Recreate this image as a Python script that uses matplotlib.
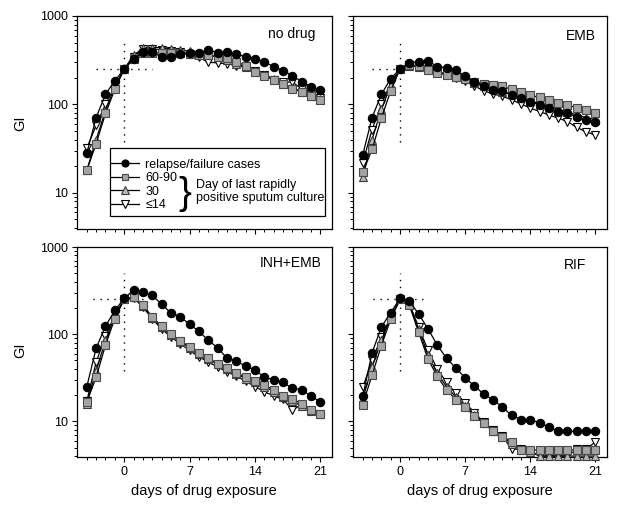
import matplotlib
matplotlib.use('Agg')
import matplotlib.pyplot as plt
from matplotlib.patches import Rectangle
from matplotlib.lines import Line2D
from matplotlib.ticker import FixedLocator, LogLocator, NullFormatter, FixedFormatter

plt.rcParams['font.family'] = ['Liberation Sans', 'DejaVu Sans']

# ---------------- data ----------------
days = [-4, -3, -2, -1, 0, 1, 2, 3, 4, 5, 6, 7, 8, 9, 10, 11, 12, 13, 14, 15, 16, 17, 18, 19, 20, 21]
series_labels = ['relapse/failure cases', '60-90', '30', '\u226414']
panel_titles = ['no drug', 'EMB', 'INH+EMB', 'RIF']

nodrug_relapse = [28, 71, 130, 186, 250, 325, 390, 390, 346, 346, 370, 382, 382, 412, 385, 392, 372, 346, 329, 304, 267, 241, 212, 181, 159, 145]
nodrug_6090 = [18, 36, 79, 148, 250, 330, 378, 380, 382, 380, 378, 372, 360, 362, 346, 337, 304, 274, 235, 212, 191, 172, 151, 140, 123, 111]
nodrug_30 = [18, 40, 85, 160, 250, 360, 430, 440, 440, 425, 415, 400, 385, 365, 340, 320, 290, 265, 240, 215, 195, 172, 152, 140, 125, 115]
nodrug_le14 = [32, 58, 100, 160, 250, 345, 420, 425, 415, 405, 395, 370, 340, 300, 295, 288, 275, 262, 238, 215, 190, 178, 180, 150, 130, 118]

emb_relapse = [27, 71, 130, 196, 250, 296, 304, 312, 268, 260, 247, 207, 181, 162, 147, 141, 128, 118, 107, 99, 91, 83, 80, 72, 67, 63]
emb_6090 = [17, 31, 70, 142, 250, 280, 272, 246, 227, 216, 205, 194, 180, 172, 166, 160, 148, 137, 127, 120, 113, 104, 99, 91, 87, 80]
emb_30 = [15, 40, 88, 165, 250, 275, 268, 252, 235, 220, 205, 192, 175, 160, 150, 140, 130, 120, 110, 102, 95, 88, 82, 76, 71, 67]
emb_le14 = [22, 52, 100, 175, 250, 275, 265, 250, 235, 218, 200, 182, 162, 142, 132, 123, 113, 101, 91, 83, 76, 70, 64, 55, 49, 45]

inh_relapse = [25, 69, 124, 187, 257, 320, 304, 279, 221, 176, 158, 130, 108, 85, 70, 53, 49, 43, 39, 32, 30, 28, 24, 23, 19.5, 16.7]
inh_6090 = [16.7, 32, 75, 151, 250, 270, 216, 158, 124, 100, 84, 72, 61, 53, 46, 41, 36, 32, 29, 26, 23, 19.5, 18, 16, 13.6, 12.2]
inh_30 = [16, 38, 85, 160, 250, 268, 212, 155, 120, 97, 82, 70, 60, 52, 45, 40, 35, 31, 28, 25, 22, 19, 17, 15, 13.2, 12]
inh_le14 = [17, 48, 95, 165, 250, 262, 205, 150, 115, 93, 78, 65, 55, 48, 42, 37, 33, 29, 25, 22, 19.5, 18, 13.5, 15.5, 13, 12]

rif_relapse = [19.5, 61, 121, 177, 257, 242, 170, 116, 75, 53, 41, 31.5, 25.5, 20.5, 17.7, 14.6, 11.7, 10.5, 10.5, 9.6, 8.6, 7.7, 7.7, 7.7, 7.7, 7.7]
rif_6090 = [15.6, 34, 74, 148, 250, 215, 106, 52, 33, 23, 17.7, 14.6, 11.4, 9.6, 7.7, 6.7, 5.8, 4.7, 4.7, 4.7, 4.7, 4.7, 4.7, 4.7, 4.7, 4.7]
rif_30 = [18, 42, 85, 155, 250, 220, 115, 58, 36, 25, 19, 15, 11.8, 9.6, 7.7, 6.7, 5.5, 4.7, 4.5, 4.0, 4.0, 4.0, 4.0, 4.0, 4.0, 4.0]
rif_le14 = [24.5, 50, 92, 158, 250, 225, 121, 66, 40, 28, 21, 16.4, 12.6, 9.8, 7.9, 6.8, 4.8, 4.8, 4.6, 4.0, 4.0, 4.0, 4.0, 4.8, 4.8, 5.8]

panels_data = [
    [nodrug_relapse, nodrug_6090, nodrug_30, nodrug_le14],
    [emb_relapse, emb_6090, emb_30, emb_le14],
    [inh_relapse, inh_6090, inh_30, inh_le14],
    [rif_relapse, rif_6090, rif_30, rif_le14],
]

# ---------------- style ----------------
styles = [
    dict(marker='o', mfc='black', mec='black', ms=6.0),
    dict(marker='s', mfc='#a4a4a4', mec='#4a4a4a', ms=5.5),
    dict(marker='^', mfc='#b8b8b8', mec='#3a3a3a', ms=6.0),
    dict(marker='v', mfc='white', mec='black', ms=6.0),
]
draw_order = [3, 2, 1, 0]

W, H = 620, 520
rects = [
    [77 / W, 1 - 229 / H, 255 / W, 213 / H],
    [353 / W, 1 - 229 / H, 254 / W, 213 / H],
    [77 / W, 1 - 457 / H, 255 / W, 210 / H],
    [353 / W, 1 - 457 / H, 254 / W, 210 / H],
]
title_pos = [(0.935, 0.915), (0.955, 0.906), (0.96, 0.924), (0.92, 0.914)]
hline_ext = [(-3, 3), (-3, 0), (-3.3, 2.6), (-2.9, 2.6)]

fig = plt.figure(figsize=(6.2, 5.2), dpi=100)

axes = []
for i in range(4):
    ax = fig.add_axes(rects[i])
    axes.append(ax)
    ax.set_yscale('log')
    ax.set_ylim(3.9, 1000)
    ax.set_xlim(-5.05, 22.25)

    # dotted crosshair
    ax.plot([0, 0], [38, 500], color='black', lw=1.0, ls=(0, (1, 4)), zorder=1)
    ax.plot(list(hline_ext[i]), [250, 250], color='black', lw=1.0, ls=(0, (1, 4)), zorder=1)

    for k in draw_order:
        st = styles[k]
        ax.plot(days, panels_data[i][k], color='black', lw=0.9, marker=st['marker'],
                mfc=st['mfc'], mec=st['mec'], ms=st['ms'], mew=0.8,
                clip_on=False, zorder=3 + (3 - k) * 0.1)

    ax.text(title_pos[i][0], title_pos[i][1], panel_titles[i], transform=ax.transAxes,
            ha='right', va='center', fontsize=10)

    # ticks
    ax.xaxis.set_major_locator(FixedLocator([0, 7, 14, 21]))
    ax.xaxis.set_minor_locator(FixedLocator(days))
    ax.yaxis.set_major_locator(FixedLocator([10, 100, 1000]))
    ax.yaxis.set_minor_locator(LogLocator(base=10, subs=[2, 3, 4, 5, 6, 7, 8, 9]))
    ax.yaxis.set_minor_formatter(NullFormatter())
    ax.xaxis.set_minor_formatter(NullFormatter())
    ax.tick_params(which='major', direction='out', length=3.5, width=0.8, labelsize=9, pad=3)
    ax.tick_params(which='minor', direction='out', length=2.2, width=0.7)
    if i in (0, 2):
        ax.yaxis.set_major_formatter(FixedFormatter(['10', '100', '1000']))
    else:
        ax.yaxis.set_major_formatter(NullFormatter())
    if i in (2, 3):
        ax.xaxis.set_major_formatter(FixedFormatter(['0', '7', '14', '21']))
    else:
        ax.xaxis.set_major_formatter(NullFormatter())
    for sp in ax.spines.values():
        sp.set_linewidth(0.9)

# axis labels
fig.text(20 / W, 1 - 123 / H, 'GI', rotation=90, ha='center', va='center', fontsize=10.5)
fig.text(20 / W, 1 - 350 / H, 'GI', rotation=90, ha='center', va='center', fontsize=10.5)
fig.text(204 / W, 1 - 491 / H, 'days of drug exposure', ha='center', va='center', fontsize=10.5)
fig.text(480 / W, 1 - 491 / H, 'days of drug exposure', ha='center', va='center', fontsize=10.5)

# legend in first panel
ax0 = axes[0]
handles = [Line2D([], [], color='black', lw=0.9, marker=s['marker'], mfc=s['mfc'],
                  mec=s['mec'], ms=s['ms'] * 0.85, mew=0.8) for s in styles]
leg = ax0.legend(handles, series_labels, loc='upper left', bbox_to_anchor=(0.135, 0.33),
                 frameon=False, fontsize=9, handlelength=2.2, handletextpad=0.5,
                 labelspacing=0.12, borderpad=0, borderaxespad=0)
ax0.add_patch(Rectangle((0.129, 0.061), 0.844, 0.319, transform=ax0.transAxes,
                        fill=False, edgecolor='black', lw=0.9, zorder=5))
ax0.text(0.422, 0.165, '}', transform=ax0.transAxes, ha='center', va='center',
         fontsize=28, family=['Liberation Sans'])
ax0.text(0.468, 0.176, 'Day of last rapidly\npositive sputum culture', transform=ax0.transAxes,
         ha='left', va='center', fontsize=9, linespacing=1.05)

fig.savefig('out.png', dpi=100)
